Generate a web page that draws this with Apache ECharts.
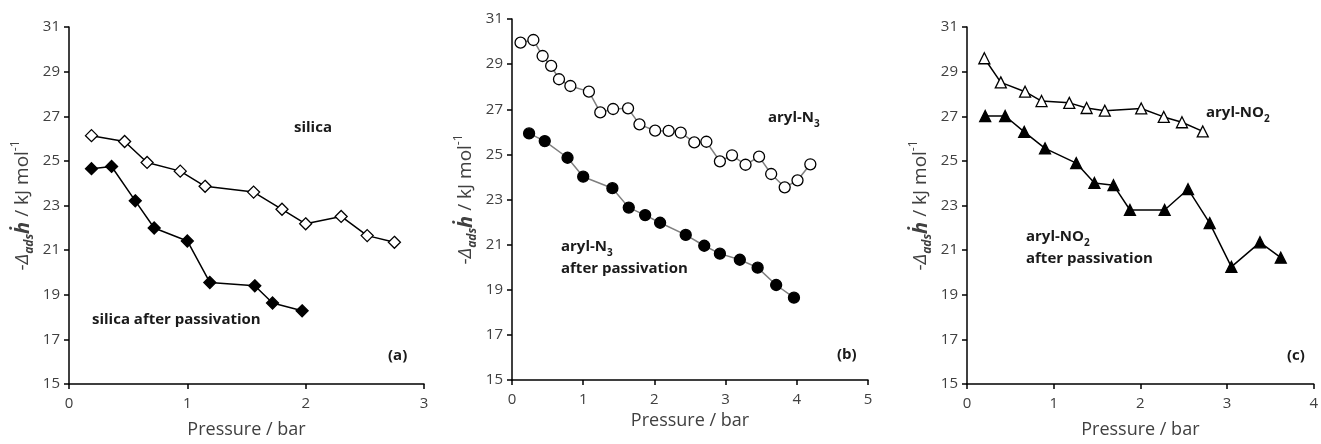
<!DOCTYPE html>
<html>
<head>
<meta charset="utf-8">
<script src="https://cdn.jsdelivr.net/npm/echarts@6/dist/echarts.min.js"></script>
<style>
html,body{margin:0;padding:0;background:#fff;}
#chart{width:1321px;height:444px;}
</style>
</head>
<body>
<div id="chart"></div>
<script>
// ---- Data (pressure in bar, -Δads h in kJ/mol) ----
var silicaP = [0.19, 0.47, 0.66, 0.94, 1.15, 1.56, 1.80, 2.00, 2.30, 2.52, 2.75];
var silicaH = [26.13, 25.87, 24.93, 24.54, 23.86, 23.60, 22.83, 22.18, 22.51, 21.65, 21.35];
var silicaPassP = [0.19, 0.36, 0.56, 0.72, 1.00, 1.19, 1.57, 1.72, 1.97];
var silicaPassH = [24.65, 24.75, 23.21, 21.99, 21.41, 19.55, 19.40, 18.63, 18.28];

var n3P = [0.12, 0.30, 0.43, 0.55, 0.66, 0.82, 1.08, 1.24, 1.42, 1.63, 1.79, 2.01, 2.20, 2.37, 2.56, 2.73, 2.92, 3.09, 3.28, 3.47, 3.64, 3.83, 4.01, 4.19];
var n3H = [29.95, 30.07, 29.36, 28.92, 28.33, 28.03, 27.78, 26.86, 27.01, 27.04, 26.33, 26.05, 26.04, 25.96, 25.53, 25.56, 24.69, 24.96, 24.54, 24.90, 24.13, 23.54, 23.85, 24.56];
var n3PassP = [0.24, 0.46, 0.78, 1.00, 1.41, 1.64, 1.87, 2.08, 2.44, 2.70, 2.92, 3.20, 3.45, 3.71, 3.96];
var n3PassH = [25.93, 25.59, 24.85, 24.01, 23.50, 22.64, 22.31, 21.97, 21.43, 20.95, 20.60, 20.33, 19.98, 19.21, 18.65];

var no2P = [0.20, 0.39, 0.67, 0.86, 1.18, 1.38, 1.59, 2.01, 2.27, 2.48, 2.72];
var no2H = [29.60, 28.52, 28.10, 27.68, 27.60, 27.37, 27.25, 27.35, 26.97, 26.73, 26.32];
var no2PassP = [0.21, 0.44, 0.66, 0.90, 1.26, 1.47, 1.69, 1.88, 2.28, 2.55, 2.80, 3.05, 3.38, 3.62];
var no2PassH = [27.01, 27.01, 26.30, 25.56, 24.90, 24.01, 23.91, 22.80, 22.80, 23.73, 22.21, 20.25, 21.35, 20.66];

var yTicks = [15, 17, 19, 21, 23, 25, 27, 29, 31];
var xMaxA = 3, xMaxB = 5, xMaxC = 4;

function pairs(xs, ys) { return xs.map(function (x, i) { return [x, ys[i]]; }); }

var FONT = 'Open Sans';
var tickColor = '#404040';

function xAxis(idx, max) {
  return {
    type: 'value', gridIndex: idx, min: 0, max: max, interval: 1,
    name: 'Pressure / bar', nameLocation: 'middle', nameGap: idx === 1 ? 28 : 37,
    nameTextStyle: { fontFamily: FONT, fontSize: 18, color: tickColor },
    axisLine: { show: true, onZero: false, lineStyle: { color: '#000', width: 1.5 } },
    axisTick: { show: true, inside: false, length: 5, lineStyle: { color: '#000', width: 1.5 } },
    axisLabel: { fontFamily: FONT, fontSize: 15, color: tickColor, margin: 12 },
    splitLine: { show: false }
  };
}

function yAxis(idx) {
  var c = tickColor;
  return {
    type: 'value', gridIndex: idx, min: yTicks[0], max: yTicks[yTicks.length - 1], interval: 2,
    name: '{n|-}{i|Δ}{s|ads}{h|ḣ}{n| / kJ mol}{p|-1}',
    nameLocation: 'middle', nameGap: 33, nameRotate: 90,
    nameTextStyle: {
      fontFamily: FONT, fontSize: 19, color: c,
      rich: {
        n: { fontFamily: FONT, fontSize: 19, color: c, lineHeight: 26 },
        i: { fontFamily: FONT, fontSize: 19, fontStyle: 'italic', color: c, lineHeight: 26 },
        s: { fontFamily: FONT, fontSize: 12, fontStyle: 'italic', fontWeight: 'bold', color: c, lineHeight: 26, verticalAlign: 'bottom' },
        h: { fontFamily: FONT, fontSize: 20, fontStyle: 'italic', fontWeight: 'bold', color: c, lineHeight: 26 },
        p: { fontFamily: FONT, fontSize: 12, color: c, lineHeight: 26, verticalAlign: 'top' }
      }
    },
    axisLine: { show: true, onZero: false, lineStyle: { color: '#000', width: 1.5 } },
    axisTick: { show: true, inside: false, length: 5, lineStyle: { color: '#000', width: 1.5 } },
    axisLabel: { fontFamily: FONT, fontSize: 15, color: tickColor, margin: 9 },
    splitLine: { show: false }
  };
}

function series(idx, data, symbol, size, filled, lineColor) {
  return {
    type: 'line', xAxisIndex: idx, yAxisIndex: idx, data: data,
    symbol: symbol, symbolSize: size, showSymbol: true, animation: false,
    lineStyle: { color: lineColor, width: 1.5 },
    itemStyle: { color: filled ? '#000' : '#fff', borderColor: '#000', borderWidth: 1.3 },
    z: 3
  };
}

function label(x, y, lines, size) {
  return {
    type: 'text', left: x, top: y,
    style: {
      text: lines, fontFamily: FONT, fontSize: size || 15, fontWeight: 'bold', fill: '#1a1a1a',
      lineHeight: 22,
      rich: {
        b: { fontFamily: FONT, fontSize: size || 15, fontWeight: 'bold', fill: '#1a1a1a', lineHeight: 22 },
        sub: { fontFamily: FONT, fontSize: 10, fontWeight: 'bold', fill: '#1a1a1a', lineHeight: 22, verticalAlign: 'bottom' }
      }
    }
  };
}

var option = {
  backgroundColor: '#fff',
  animation: false,
  grid: [
    { left: 69, top: 27, width: 355, height: 361, containLabel: false },
    { left: 512, top: 19, width: 356, height: 361, containLabel: false },
    { left: 967, top: 27, width: 355, height: 361, containLabel: false }
  ],
  xAxis: [xAxis(0, xMaxA), xAxis(1, xMaxB), xAxis(2, xMaxC)],
  yAxis: [yAxis(0), yAxis(1), yAxis(2)],
  series: [
    series(0, pairs(silicaP, silicaH), 'diamond', 12, false, '#000'),
    series(0, pairs(silicaPassP, silicaPassH), 'diamond', 12, true, '#000'),
    series(1, pairs(n3P, n3H), 'circle', 11, false, '#7f7f7f'),
    series(1, pairs(n3PassP, n3PassH), 'circle', 11, true, '#7f7f7f'),
    series(2, pairs(no2P, no2H), 'triangle', 11, false, '#000'),
    series(2, pairs(no2PassP, no2PassH), 'triangle', 11, true, '#000')
  ],
  graphic: [
    label(294, 117, '{b|silica}'),
    label(92, 309, '{b|silica after passivation}'),
    label(388, 345, '{b|(a)}'),
    label(768, 107, '{b|aryl-N}{sub|3}'),
    label(561, 236, '{b|aryl-N}{sub|3}\n{b|after passivation}'),
    label(837, 344, '{b|(b)}'),
    label(1206, 102, '{b|aryl-NO}{sub|2}'),
    label(1026, 226, '{b|aryl-NO}{sub|2}\n{b|after passivation}'),
    label(1287, 345, '{b|(c)}')
  ]
};

var chart = echarts.init(document.getElementById('chart'), null, { renderer: 'canvas' });
chart.setOption(option);
</script>
</body>
</html>
